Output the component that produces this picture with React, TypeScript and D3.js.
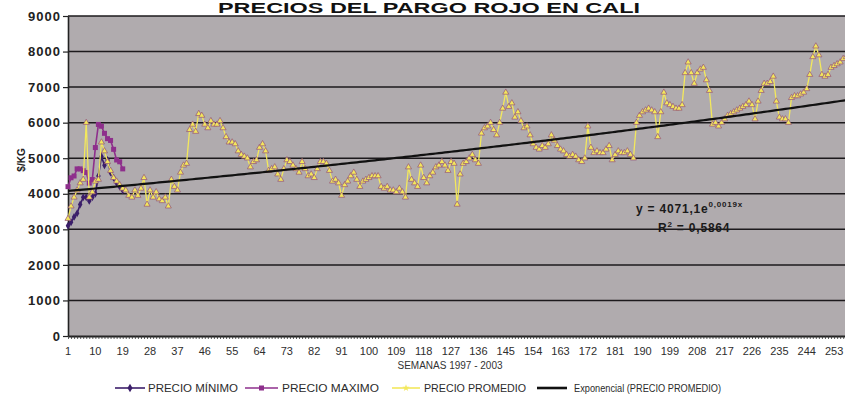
import React, { useEffect, useRef } from "react";
import * as d3 from "d3";

const title = "PRECIOS DEL PARGO ROJO EN CALI";
const yTicks = [0, 1000, 2000, 3000, 4000, 5000, 6000, 7000, 8000, 9000];

// precio promedio semanal ($/KG), semanas 1..257
const promedio = [
  3300, 3650, 3900, 4100, 4300, 4400, 6000, 3900, 4050, 4350,
  4400, 5450, 5200, 4900, 4650, 4450, 4350, 4250, 4150, 4100,
  3950, 3900, 4100, 3950, 4150, 4450, 3700, 4100, 3900, 4050,
  3850, 3800, 3900, 3650, 4400, 4200, 4100, 4600, 4800, 4850,
  5800, 5950, 5750, 6250, 6200, 5950, 5850, 6050, 5950, 5950,
  6050, 5850, 5600, 5450, 5450, 5400, 5200, 5100, 5050, 5000,
  4750, 4900, 4950, 5300, 5400, 5200, 4650, 4700, 4750, 4550,
  4400, 4700, 4950, 4900, 4800, 4700, 4600, 4900, 4700, 4500,
  4550, 4450, 4700, 4900, 4900, 4850, 4650, 4350, 4400, 4300,
  3950, 4250, 4350, 4500, 4600, 4400, 4200, 4350, 4400, 4450,
  4500, 4500, 4500, 4200, 4150, 4200, 4100, 4100, 4050, 4150,
  4050, 3900, 4750, 4400, 4300, 4200, 4800, 4450, 4300, 4500,
  4600, 4750, 4800, 4900, 4800, 4650, 4900, 4850, 3700, 4550,
  4850, 4900, 5000, 5100, 4950, 4850, 5700, 5850, 5900, 6000,
  5800, 5650, 6000, 6400, 6850, 6450, 6550, 6150, 6300, 6050,
  5850, 5900, 5650, 5400, 5300, 5250, 5350, 5300, 5400, 5650,
  5500, 5350, 5250, 5200, 5100, 5050, 5100, 5050, 4950, 4900,
  5000, 5900, 5300, 5150, 5200, 5150, 5150, 5250, 5350, 4950,
  5100, 5200, 5150, 5150, 5200, 5100, 5000, 6000, 6200, 6300,
  6350, 6400, 6350, 6300, 5600, 6300, 6850, 6550, 6500, 6450,
  6400, 6400, 6500, 7400, 7700, 7400, 7100, 7400, 7500, 7550,
  7200, 6900, 5950, 6000, 5900, 6000, 6100, 6200, 6250, 6300,
  6350, 6400, 6450, 6500, 6600, 6500, 6100, 6600, 6900, 7100,
  7100, 7150, 7300, 6600, 6150, 6100, 6100, 6000, 6700, 6750,
  6750, 6800, 6850, 6950, 7350, 7850, 8150, 7900, 7350, 7300,
  7350, 7550, 7600, 7650, 7700, 7800, 7850,
];

// minimo y maximo solo aparecen en las primeras semanas
const minimo = [
  3100, 3200, 3350, 3450, 3700, 3900, 3900, 3800, 3900, 4000,
  4500, 5050, 4800, 4950, 4600, 4450, 4300, 4200, 4100,
];
const maximo = [
  4200, 4450, 4500, 4700, 4700, 4650, 4600, 4300, 4400, 5300,
  5950, 5900, 5700, 5550, 5500, 5250, 4950, 4900, 4700,
];

const weeks = promedio.map((_, i) => i + 1);

// ajuste exponencial y = a * e^(b x)
const trendA = 4071.1;
const trendB = 0.0019;
const eqMain = "y = 4071,1e";
const eqExp = "0,0019x";
const r2Value = " = 0,5864";

const legendLabels = [
  "PRECIO MÍNIMO",
  "PRECIO MAXIMO",
  "PRECIO PROMEDIO",
  "Exponencial (PRECIO PROMEDIO)",
];

const FONT = "'Liberation Sans', Arial, sans-serif";
const C_MIN = "#3b1e6a";
const C_MAX = "#8e2f8c";
const C_AVG = "#f3e85c";

export default function App() {
  const ref = useRef<SVGSVGElement>(null);

  useEffect(() => {
    const svg = d3.select(ref.current);
    svg.selectAll("*").remove();

    const W = 845, H = 405;
    const left = 68, top = 16, bottom = 336;

    const x = d3.scalePoint<number>()
      .domain(weeks)
      .range([left, left + (weeks.length - 1) * 3.04]);
    const y = d3.scaleLinear().domain([0, 9000]).range([bottom, top]);

    svg.append("rect").attr("width", W).attr("height", H).attr("fill", "#ffffff");

    // titulo
    svg.append("text")
      .attr("x", 429).attr("y", 13)
      .attr("text-anchor", "middle")
      .attr("textLength", 422)
      .attr("lengthAdjust", "spacingAndGlyphs")
      .style("font-family", FONT).style("font-weight", "bold").style("font-size", "14px")
      .attr("fill", "#111")
      .text(title);

    // area de trazado
    svg.append("rect")
      .attr("x", left).attr("y", top)
      .attr("width", W - left + 10).attr("height", bottom - top)
      .attr("fill", "#b0abae");

    // lineas de division
    svg.append("g")
      .selectAll("line")
      .data(yTicks.filter(d => d > 0))
      .enter().append("line")
      .attr("x1", left).attr("x2", W + 10)
      .attr("y1", d => y(d)).attr("y2", d => y(d))
      .attr("stroke", "#1d1a1d").attr("stroke-width", 1.5);

    // eje y
    const yAxis = svg.append("g")
      .attr("transform", `translate(${left},0)`)
      .call(d3.axisLeft(y).tickValues(yTicks).tickSize(5).tickSizeOuter(0).tickFormat(d3.format("d")));
    yAxis.select(".domain").attr("stroke", "#222").attr("stroke-width", 1.6);
    yAxis.selectAll(".tick line").attr("stroke", "#222").attr("stroke-width", 1.2);
    yAxis.selectAll("text")
      .attr("x", -7)
      .style("font-family", FONT).style("font-size", "13px").style("font-weight", "bold")
      .style("letter-spacing", "1px")
      .attr("fill", "#222");

    // eje x
    const xAxis = svg.append("g")
      .attr("transform", `translate(0,${bottom})`)
      .call(d3.axisBottom(x).tickSize(3).tickSizeOuter(0).tickFormat(() => ""));
    xAxis.select(".domain").attr("stroke", "#222").attr("stroke-width", 1.8);
    xAxis.selectAll(".tick line").attr("stroke", "#333").attr("stroke-width", 0.8);

    svg.append("g")
      .selectAll("text")
      .data(weeks.filter(w => (w - 1) % 9 === 0))
      .enter().append("text")
      .attr("x", d => x(d) as number)
      .attr("y", 355)
      .attr("text-anchor", "middle")
      .style("font-family", FONT).style("font-size", "11px")
      .attr("fill", "#2e2e2e")
      .text(d => d);

    svg.append("text")
      .attr("x", 450).attr("y", 369)
      .attr("text-anchor", "middle")
      .style("font-family", FONT).style("font-size", "10px")
      .attr("fill", "#333")
      .text("SEMANAS 1997 - 2003");

    svg.append("text")
      .attr("transform", "translate(25,160) rotate(-90)")
      .attr("text-anchor", "middle")
      .style("font-family", FONT).style("font-size", "10px").style("font-weight", "bold")
      .attr("fill", "#222")
      .text("$/KG");

    const plot = svg.append("g");
    const line = d3.line<number>()
      .x((_, i) => x(i + 1) as number)
      .y(d => y(d));

    // minimo
    plot.append("path").datum(minimo)
      .attr("d", line).attr("fill", "none")
      .attr("stroke", C_MIN).attr("stroke-width", 1.6);
    plot.append("g").selectAll("path").data(minimo).enter().append("path")
      .attr("d", d3.symbol(d3.symbolDiamond, 18)())
      .attr("transform", (d, i) => `translate(${x(i + 1)},${y(d)})`)
      .attr("fill", C_MIN);

    // maximo
    plot.append("path").datum(maximo)
      .attr("d", line).attr("fill", "none")
      .attr("stroke", C_MAX).attr("stroke-width", 1.6);
    plot.append("g").selectAll("rect").data(maximo).enter().append("rect")
      .attr("x", (d, i) => (x(i + 1) as number) - 2.5)
      .attr("y", d => y(d) - 2.5)
      .attr("width", 5).attr("height", 5)
      .attr("fill", C_MAX);

    // promedio
    plot.append("path").datum(promedio)
      .attr("d", line).attr("fill", "none")
      .attr("stroke", C_AVG).attr("stroke-width", 1.3);
    plot.append("g").selectAll("path").data(promedio).enter().append("path")
      .attr("d", d3.symbol(d3.symbolTriangle, 16)())
      .attr("transform", (d, i) => `translate(${x(i + 1)},${y(d)})`)
      .attr("fill", C_AVG)
      .attr("stroke", "#94527a").attr("stroke-width", 0.7);

    // tendencia exponencial
    const trendLine = d3.line<number>()
      .x(w => x(w) as number)
      .y(w => y(trendA * Math.exp(trendB * w)));
    plot.append("path").datum(weeks)
      .attr("d", trendLine).attr("fill", "none")
      .attr("stroke", "#111").attr("stroke-width", 2.2);

    // ecuacion
    const eq = svg.append("text")
      .attr("x", 636).attr("y", 213)
      .style("font-family", FONT).style("font-size", "12px").style("font-weight", "bold")
      .style("letter-spacing", "0.8px")
      .attr("fill", "#1a1a1a");
    eq.append("tspan").text(eqMain);
    eq.append("tspan").attr("dy", -6).style("font-size", "8px").text(eqExp);

    const r2 = svg.append("text")
      .attr("x", 658).attr("y", 232)
      .style("font-family", FONT).style("font-size", "12px").style("font-weight", "bold")
      .style("letter-spacing", "0.8px")
      .attr("fill", "#1a1a1a");
    r2.append("tspan").text("R");
    r2.append("tspan").attr("dy", -5).style("font-size", "8px").text("2");
    r2.append("tspan").attr("dy", 5).text(r2Value);

    // leyenda
    const ly = 388;
    const lg = svg.append("g");
    const items = [
      { x1: 115, x2: 145, tx: 148, tw: 90, color: C_MIN, w: 1.6 },
      { x1: 245, x2: 278, tx: 282, tw: 97, color: C_MAX, w: 1.6 },
      { x1: 392, x2: 420, tx: 424, tw: 102, color: C_AVG, w: 1.6 },
      { x1: 537, x2: 567, tx: 574, tw: 147, color: "#111", w: 2.6 },
    ];
    items.forEach((it, i) => {
      lg.append("line")
        .attr("x1", it.x1).attr("x2", it.x2).attr("y1", ly).attr("y2", ly)
        .attr("stroke", it.color).attr("stroke-width", it.w);
      const cx = (it.x1 + it.x2) / 2;
      if (i === 0) {
        lg.append("path").attr("d", d3.symbol(d3.symbolDiamond, 22)())
          .attr("transform", `translate(${cx},${ly})`).attr("fill", C_MIN);
      } else if (i === 1) {
        lg.append("rect").attr("x", cx - 2.5).attr("y", ly - 2.5)
          .attr("width", 5).attr("height", 5).attr("fill", C_MAX);
      } else if (i === 2) {
        lg.append("path").attr("d", d3.symbol(d3.symbolStar, 16)())
          .attr("transform", `translate(${cx},${ly})`).attr("fill", C_AVG);
      }
      lg.append("text")
        .attr("x", it.tx).attr("y", ly + 3.5)
        .attr("textLength", it.tw)
        .attr("lengthAdjust", "spacingAndGlyphs")
        .style("font-family", FONT).style("font-size", "10px")
        .attr("fill", "#2b2b2b")
        .text(legendLabels[i]);
    });
  }, []);

  return (
    <svg
      ref={ref}
      width={845}
      height={405}
      style={{ position: "absolute", left: 0, top: 0 }}
    />
  );
}
